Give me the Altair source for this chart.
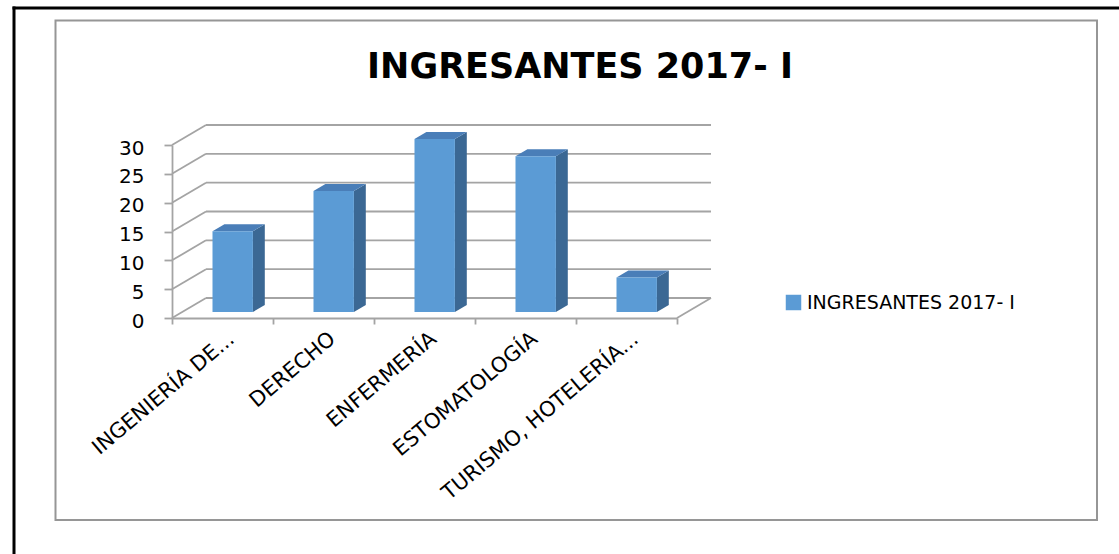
import altair as alt
import pandas as pd

# ---------------- data ----------------
categories = ["INGENIERÍA DE...", "DERECHO", "ENFERMERÍA", "ESTOMATOLOGÍA", "TURISMO, HOTELERÍA..."]
values = [14, 21, 30, 27, 6]
series_name = "INGRESANTES 2017- I"
title_text = "INGRESANTES 2017- I"
y_ticks = [0, 5, 10, 15, 20, 25, 30]

# ---------------- style / 3D geometry ----------------
FRONT = "#5B9BD5"
SIDE = "#3B6894"
TOP = "#4A7EB8"
GRID = "#A4A4A4"
FONT = "DejaVu Sans"
W, H = 505, 173
PAD_L, PAD_T = 172, 145
DEPTH_X, DEPTH_Y = 0.3366, 3.468   # full wall depth in data units
FRONT_F, BAR_F, HALF_W = 0.30, 0.35, 0.2

n = len(categories)
centers = [i + 0.5 for i in range(n)]
ymax = max(y_ticks)

bars = pd.DataFrame({"name": categories, "value": values, "c": centers})
bars["x1"] = bars["c"] + FRONT_F * DEPTH_X - HALF_W
bars["x2"] = bars["c"] + FRONT_F * DEPTH_X + HALF_W
bars["y0"] = FRONT_F * DEPTH_Y
bars["y1"] = bars["y0"] + bars["value"]
bars["series"] = series_name
bdx, bdy = BAR_F * DEPTH_X, BAR_F * DEPTH_Y

side_rows, top_rows = [], []
for r in bars.to_dict("records"):
    side_rows.append({"name": r["name"], "x": r["x2"], "lo": r["y0"], "hi": r["y1"]})
    side_rows.append({"name": r["name"], "x": r["x2"] + bdx, "lo": r["y0"] + bdy, "hi": r["y1"] + bdy})
    top_rows.append({"name": r["name"], "y": r["y1"], "xa": r["x1"], "xb": r["x2"]})
    top_rows.append({"name": r["name"], "y": r["y1"] + bdy, "xa": r["x1"] + bdx, "xb": r["x2"] + bdx})
side = pd.DataFrame(side_rows)
top = pd.DataFrame(top_rows)

seg_rows = []
for k in y_ticks:
    seg_rows.append({"xa": DEPTH_X, "ya": k + DEPTH_Y, "xb": n + DEPTH_X, "yb": k + DEPTH_Y})
    seg_rows.append({"xa": 0, "ya": k, "xb": DEPTH_X, "yb": k + DEPTH_Y})
seg_rows.append({"xa": n, "ya": 0, "xb": n + DEPTH_X, "yb": DEPTH_Y})
segs = pd.DataFrame(seg_rows)

labels = pd.DataFrame({"name": categories, "c": centers})

xs = alt.Scale(domain=[0, n], nice=False, zero=False)
ys = alt.Scale(domain=[0, ymax], nice=False, zero=False)
xaxis = alt.Axis(values=list(range(n + 1)), labels=False, ticks=True, tickSize=6,
                 tickColor=GRID, tickWidth=1.8, domainColor=GRID, domainWidth=1.8,
                 grid=False, title=None)
yaxis = alt.Axis(values=y_ticks, grid=False, domainColor=GRID, domainWidth=1.8,
                 tickColor=GRID, tickWidth=1.8, tickSize=8, labelFont=FONT,
                 labelFontSize=20, labelColor="black", labelPadding=20,
                 labelOffset=3, title=None)


def X(f):
    return alt.X(f, type="quantitative", scale=xs, axis=xaxis)


def Y(f):
    return alt.Y(f, type="quantitative", scale=ys, axis=yaxis)


walls = alt.Chart(segs).mark_rule(color=GRID, strokeWidth=1.8).encode(
    x=X("xa"), y=Y("ya"), x2="xb", y2="yb")

sides = alt.Chart(side).mark_area(color=SIDE, orient="vertical").encode(
    x=X("x"), y=Y("hi"), y2="lo", detail="name:N")

tops = alt.Chart(top).mark_area(color=TOP, orient="horizontal").encode(
    y=Y("y"), x=X("xa"), x2="xb", detail="name:N")

fronts = alt.Chart(bars).mark_rect().encode(
    x=X("x1"), x2="x2", y=Y("y0"), y2="y1",
    color=alt.Color("series:N", scale=alt.Scale(domain=[series_name], range=[FRONT]),
                    legend=alt.Legend(title=None, orient="none", legendX=612, legendY=148,
                                      symbolType="square", symbolSize=240,
                                      symbolStrokeWidth=0, labelFont=FONT,
                                      labelFontSize=19, labelColor="black",
                                      labelPadding=9, labelLimit=0)))

xlabels = alt.Chart(labels).mark_text(
    angle=320, align="right", baseline="top", font=FONT, fontSize=21, color="black", dx=3
).encode(x=X("c"), y=alt.value(H + 12), text="name:N")

title = alt.Chart(pd.DataFrame({"t": [title_text]})).mark_text(
    font=FONT, fontSize=35, fontWeight="bold", color="black", align="center",
    baseline="alphabetic"
).encode(x=alt.value(580 - PAD_L), y=alt.value(78 - PAD_T), text="t:N")

inner = alt.Chart(pd.DataFrame({"a": [0]})).mark_rect(
    fillOpacity=0, stroke="#969696", strokeWidth=2
).encode(x=alt.value(55.5 - PAD_L), x2=alt.value(1097 - PAD_L),
         y=alt.value(20.5 - PAD_T), y2=alt.value(520 - PAD_T))

outer_l = alt.Chart(pd.DataFrame({"a": [0]})).mark_rule(color="black", strokeWidth=3).encode(
    x=alt.value(14 - PAD_L), y=alt.value(6.5 - PAD_T), y2=alt.value(560 - PAD_T))
outer_t = alt.Chart(pd.DataFrame({"a": [0]})).mark_rule(color="black", strokeWidth=3).encode(
    x=alt.value(12.5 - PAD_L), x2=alt.value(1125 - PAD_L), y=alt.value(8 - PAD_T))

chart = alt.layer(inner, outer_l, outer_t, walls, sides, tops, fronts, xlabels, title).properties(
    width=W, height=H,
    autosize=alt.AutoSizeParams(type="none"),
    padding={"left": PAD_L, "top": PAD_T, "right": 1119 - PAD_L - W, "bottom": 554 - PAD_T - H},
    background="white",
).configure_view(stroke=None)

chart.save("out.html", embed_options={"renderer": "svg", "actions": False})
